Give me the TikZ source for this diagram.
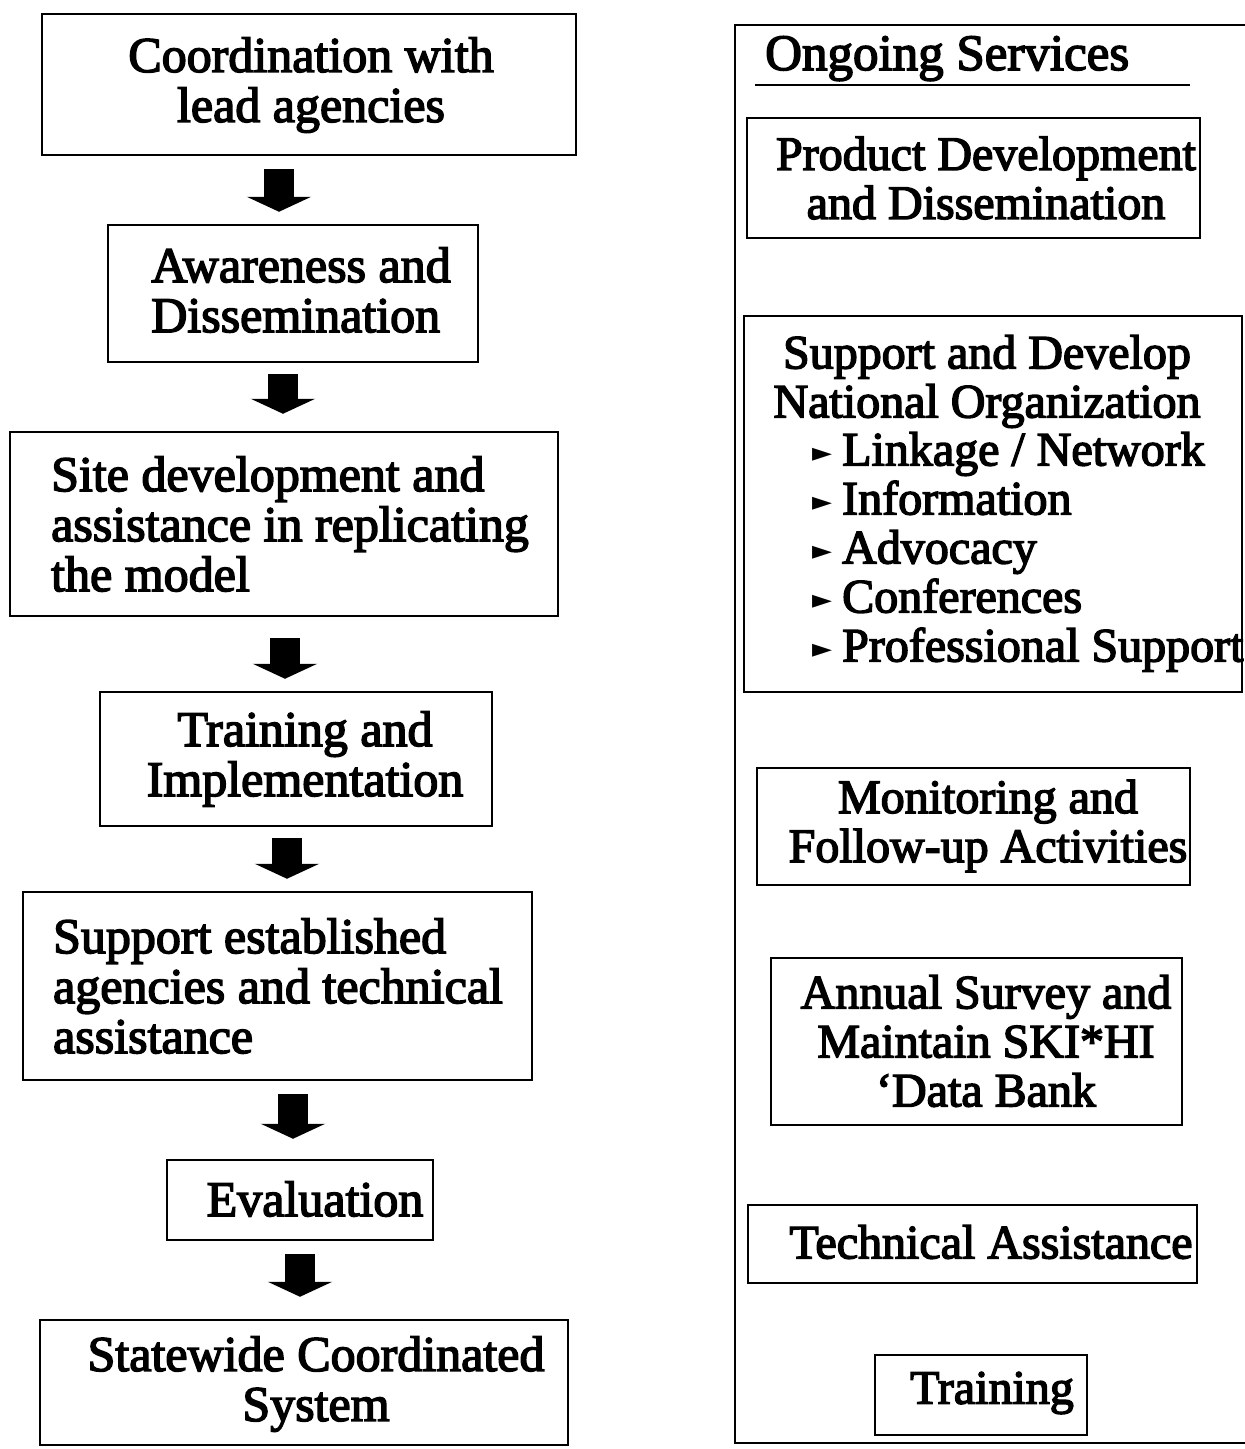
\documentclass[tikz,border=0pt]{standalone}
\usepackage{fontspec}
\setmainfont{Liberation Serif}
\newfontfamily\heavy{Liberation Serif}[FakeBold=3]
\newfontfamily\symfont{DejaVu Sans}
\usetikzlibrary{arrows.meta}
\newcommand\bul{\makebox[30pt][l]{\raisebox{4pt}{\symfont\fontsize{26}{26}\selectfont ►}}}
\begin{document}
\begin{tikzpicture}[x=1pt,y=-1pt,
  box/.style={draw, line width=2.5pt, rectangle, inner sep=0pt},
  lt/.style={font=\heavy\fontsize{50}{50}\selectfont, inner sep=0pt},
  rt/.style={font=\heavy\fontsize{48}{49}\selectfont, inner sep=0pt},
  flow/.style={line width=30pt, -{Triangle[width=64pt,length=15pt]}},
  frame/.style={line width=2.5pt}]
\useasboundingbox[fill=white] (0,0) rectangle (1245,1449);

% left column boxes
\node[box, minimum width=534pt, minimum height=141pt] (b1) at (309,84.5) {};
\node[box, minimum width=370pt, minimum height=137pt] (b2) at (293,293.5) {};
\node[box, minimum width=548pt, minimum height=184pt] (b3) at (284,524) {};
\node[box, minimum width=392pt, minimum height=134pt] (b4) at (296,759) {};
\node[box, minimum width=509pt, minimum height=188pt] (b5) at (277.5,986) {};
\node[box, minimum width=266pt, minimum height=80pt] (b6) at (300,1200) {};
\node[box, minimum width=528pt, minimum height=125pt] (b7) at (304,1382.5) {};

% left texts
\node[lt, align=center] (t1) at (311,85) {Coordination with\\lead agencies};
\node[lt, align=left] (t2) at (301,290) {Awareness and\\Dissemination};
\node[lt, align=left] (t3) at (290,524) {Site development and\\assistance in replicating\\the model};
\node[lt, align=center] (t4) at (305,759) {Training and\\Implementation};
\node[lt, align=left] (t5) at (278,986) {Support established\\agencies and technical\\assistance};
\node[lt] (t6) at (315,1199) {Evaluation};
\node[lt, align=center] (t7) at (316,1384) {Statewide Coordinated\\System};

% block arrows
\draw[flow] ([xshift=-30pt,yshift=-13pt]b1.south) -- ([xshift=-14pt,yshift=12pt]b2.north);
\draw[flow] ([xshift=-10pt,yshift=-11pt]b2.south) -- ([xshift=-1pt,yshift=17pt]b3.north);
\draw[flow] ([xshift=1pt,yshift=-21pt]b3.south) -- ([xshift=-11pt,yshift=12pt]b4.north);
\draw[flow] ([xshift=-9pt,yshift=-11pt]b4.south) -- ([xshift=9.5pt,yshift=12pt]b5.north);
\draw[flow] ([xshift=15.5pt,yshift=-13pt]b5.south) -- ([xshift=-7pt,yshift=20pt]b6.north);
\draw[flow] ([xshift=0pt,yshift=-13pt]b6.south) -- ([xshift=-4pt,yshift=22pt]b7.north);

% right column frame
\coordinate (fTR) at (1245,25);
\coordinate (fTL) at (735,25);
\coordinate (fBL) at (735,1443);
\coordinate (fBR) at (1245,1443);
\draw[frame] (fTR) -- (fTL) -- (fBL) -- (fBR);

\node[font=\heavy\fontsize{51}{51}\selectfont, inner sep=0pt, anchor=base west] (os) at (765,70) {Ongoing Services};
\coordinate (ulL) at (755,85);
\coordinate (ulR) at (1190,85);
\draw[line width=2pt] (ulL) -- (ulR);

% right boxes
\node[box, minimum width=453pt, minimum height=120pt] (r1) at (973.5,178) {};
\node[box, minimum width=498pt, minimum height=376pt] (r2) at (993,504) {};
\node[box, minimum width=433pt, minimum height=117pt] (r3) at (973.5,826.5) {};
\node[box, minimum width=411pt, minimum height=167pt] (r4) at (976.5,1041.5) {};
\node[box, minimum width=449pt, minimum height=78pt] (r5) at (972.5,1244) {};
\node[box, minimum width=212pt, minimum height=80pt] (r6) at (981,1395) {};

% right texts
\node[rt, align=center] (s1) at (986,178) {Product Development\\and Dissemination};
\node[rt, align=center, anchor=north] (s2h) at (987,335) {Support and Develop\\National Organization};
\node[rt, align=left, anchor=north west] (s2l) at (812,432) {\bul Linkage / Network\\\bul Information\\\bul Advocacy\\\bul Conferences\\\bul Professional Support};
\node[rt, align=center] (s3) at (988,826) {Monitoring and\\Follow-up Activities};
\node[rt, align=center] (s4) at (986,1041) {Annual Survey and\\Maintain SKI*HI\\‘Data Bank};
\node[rt] (s5) at (991,1242) {Technical Assistance};
\node[rt] (s6) at (992,1393) {Training};
\end{tikzpicture}
\end{document}
